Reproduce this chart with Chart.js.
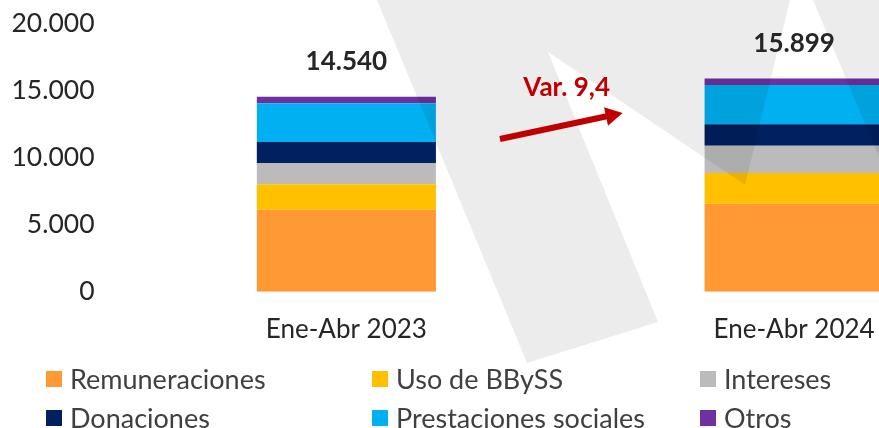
<!DOCTYPE html>
<html lang="es">
<head>
<meta charset="utf-8">
<title>Gasto Ene-Abr</title>
<script src="https://cdn.jsdelivr.net/npm/chart.js@4.4.0/dist/chart.umd.min.js"></script>
<style>
  html, body { margin: 0; padding: 0; background: #fff; overflow: hidden; }
  #wrap { position: relative; width: 879px; height: 428px; overflow: hidden; }
  #chart-box { position: absolute; left: 0; top: 0; width: 1018px; height: 428px; }
  #legend {
    position: absolute; left: 46px; top: 359px;
    display: grid; grid-template-columns: 326px 328px 200px; grid-auto-rows: 39px;
    font-family: Lato, sans-serif; font-size: 27px; color: #404040;
  }
  .item { display: flex; align-items: center; white-space: nowrap; }
  .swatch { width: 16px; height: 16px; margin-right: 8px; flex: none; }
</style>
</head>
<body>
<div id="wrap">
  <div id="chart-box"><canvas id="chart"></canvas></div>
  <div id="legend"></div>
</div>
<script>
const categories = ['Ene-Abr 2023', 'Ene-Abr 2024'];
const remuneraciones = [6115, 6560];
const usoBBySS = [1895, 2290];
const intereses = [1590, 2040];
const donaciones = [1565, 1595];
const prestaciones = [2885, 2925];
const otros = [490, 489];
const yTicks = [0, 5000, 10000, 15000, 20000];
const variationLabel = 'Var. 9,4';

const seriesNames = ['Remuneraciones', 'Uso de BBySS', 'Intereses', 'Donaciones', 'Prestaciones sociales', 'Otros'];
const seriesData = [remuneraciones, usoBBySS, intereses, donaciones, prestaciones, otros];
const seriesColors = ['#ff9933', '#ffc000', '#bbbbbb', '#002060', '#00b0f0', '#7030a0'];

const fmt = v => String(v).replace(/\B(?=(\d{3})+(?!\d))/g, '.');

// watermark drawn over the bars, as in the original slide
const overlay = {
  id: 'overlay',
  afterDatasetsDraw(chart) {
    const ctx = chart.ctx;
    const y = chart.scales.y;
    ctx.save();
    ctx.fillStyle = 'rgba(0,0,0,0.075)';
    ctx.beginPath();
    ctx.moveTo(377, 0); ctx.lineTo(527, 363); ctx.lineTo(658, 322);
    ctx.lineTo(548, 52); ctx.lineTo(745, 185); ctx.lineTo(790, 0);
    ctx.closePath();
    ctx.moveTo(813, 0); ctx.lineTo(886, 174); ctx.lineTo(1018, 174); ctx.lineTo(1018, 0);
    ctx.closePath();
    ctx.fill();

    // totals above each stack
    const last = chart.getDatasetMeta(chart.data.datasets.length - 1);
    ctx.font = 'bold 26px Lato';
    ctx.fillStyle = '#262626';
    ctx.textAlign = 'center';
    ctx.textBaseline = 'middle';
    categories.forEach((c, i) => {
      const total = seriesData.reduce((s, arr) => s + arr[i], 0);
      const bar = last.data[i];
      ctx.fillText(fmt(total), bar.x, bar.y - 35);
    });

    // variation arrow between the bars
    const x0 = last.data[0].x, x1 = last.data[1].x;
    const lerp = t => x0 + (x1 - x0) * t;
    const tx = lerp(0.343), ty = y.getPixelForValue(11390);
    const hx = lerp(0.617), hy = y.getPixelForValue(13330);
    const ang = Math.atan2(hy - ty, hx - tx);
    const ux = Math.cos(ang), uy = Math.sin(ang);
    const headLen = 17, headHalf = 9.5;
    const bx = hx - ux * headLen, by = hy - uy * headLen;
    ctx.strokeStyle = '#c00000';
    ctx.fillStyle = '#c00000';
    ctx.lineWidth = 6;
    ctx.beginPath();
    ctx.moveTo(tx, ty);
    ctx.lineTo(bx + ux * 2, by + uy * 2);
    ctx.stroke();
    ctx.beginPath();
    ctx.moveTo(hx, hy);
    ctx.lineTo(bx - uy * headHalf, by + ux * headHalf);
    ctx.lineTo(bx + uy * headHalf, by - ux * headHalf);
    ctx.closePath();
    ctx.fill();

    ctx.font = 'bold 26px Lato';
    ctx.fillText(variationLabel, lerp(0.492), y.getPixelForValue(15190));
    ctx.restore();
  }
};

const chart = new Chart(document.getElementById('chart'), {
  type: 'bar',
  data: {
    labels: categories,
    datasets: seriesNames.map((name, i) => ({
      label: name,
      data: seriesData[i],
      backgroundColor: seriesColors[i],
      borderWidth: 0,
      barPercentage: 0.4,
      categoryPercentage: 1
    }))
  },
  options: {
    responsive: true,
    maintainAspectRatio: false,
    animation: false,
    layout: { padding: { top: 23.5, right: 0, bottom: 59.7, left: 0 } },
    plugins: { legend: { display: false }, tooltip: { enabled: false } },
    scales: {
      x: {
        stacked: true,
        grid: { display: false, drawTicks: false },
        border: { display: false },
        ticks: { color: '#262626', font: { family: 'Lato', size: 26 }, padding: 22.7 }
      },
      y: {
        stacked: true,
        min: 0,
        max: 20000,
        afterFit(scale) {
          scale.width = 122.5;
          // labels padding shouldn't push the plot area down
          scale.paddingTop = 0;
          scale.paddingBottom = 0;
        },
        afterBuildTicks(scale) { scale.ticks = yTicks.map(v => ({ value: v })); },
        grid: { display: false, drawTicks: false },
        border: { display: false },
        ticks: {
          color: '#262626',
          font: { family: 'Lato', size: 26.5 },
          padding: 28,
          callback: v => fmt(v)
        }
      }
    }
  },
  plugins: [overlay]
});

const legend = document.getElementById('legend');
seriesNames.forEach((name, i) => {
  const item = document.createElement('div');
  item.className = 'item';
  item.innerHTML = '<span class="swatch" style="background:' + seriesColors[i] + '"></span>' + name;
  legend.appendChild(item);
});
</script>
</body>
</html>
